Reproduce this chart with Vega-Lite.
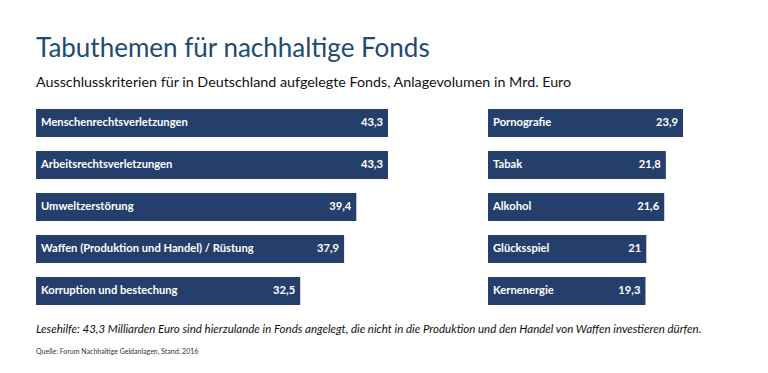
{
  "$schema": "https://vega.github.io/schema/vega-lite/v6.json",
  "background": "white",
  "padding": {"left": 36, "top": 35, "right": 10, "bottom": 10},
  "title": {
    "text": "Tabuthemen für nachhaltige Fonds",
    "subtitle": "Ausschlusskriterien für in Deutschland aufgelegte Fonds, Anlagevolumen in Mrd. Euro",
    "anchor": "start",
    "font": "Lato",
    "fontSize": 26,
    "fontWeight": "normal",
    "color": "#1d4b74",
    "subtitleFont": "Lato",
    "subtitleFontSize": 14.3,
    "subtitleColor": "#111111",
    "subtitlePadding": 14,
    "offset": 19
  },
  "config": {
    "view": {"stroke": null},
    "locale": {"number": {"decimal": ",", "thousands": ".", "grouping": [3], "currency": ["", " €"]}}
  },
  "datasets": {
    "links": [
      {"thema": "Menschenrechtsverletzungen", "balken": 43.3, "wert": 43.3},
      {"thema": "Arbeitsrechtsverletzungen", "balken": 43.3, "wert": 43.3},
      {"thema": "Umweltzerstörung", "balken": 39.4, "wert": 39.4},
      {"thema": "Waffen (Produktion und Handel) / Rüstung", "balken": 37.9, "wert": 37.9},
      {"thema": "Korruption und bestechung", "balken": 32.5, "wert": 32.5}
    ],
    "rechts": [
      {"thema": "Pornografie", "balken": 23.9, "wert": 23.9},
      {"thema": "Tabak", "balken": 21.8, "wert": 21.8},
      {"thema": "Alkohol", "balken": 21.6, "wert": 21.6},
      {"thema": "Glücksspiel", "balken": 19.4, "wert": 21},
      {"thema": "Kernenergie", "balken": 19.3, "wert": 19.3}
    ]
  },
  "vconcat": [
    {
      "title": {
        "text": "Lesehilfe: 43,3 Milliarden Euro sind hierzulande in Fonds angelegt, die nicht in die Produktion und den Handel von Waffen investieren dürfen.",
        "subtitle": "Quelle: Forum Nachhaltige Geldanlagen, Stand: 2016",
        "orient": "bottom",
        "anchor": "start",
        "font": "Lato",
        "fontSize": 11.5,
        "fontStyle": "italic",
        "fontWeight": "normal",
        "color": "#111111",
        "subtitleFont": "Lato",
        "subtitleFontSize": 7,
        "subtitleColor": "#333333",
        "subtitlePadding": 12,
        "offset": 19
      },
      "spacing": 100,
      "hconcat": [
        {
          "data": {"name": "links"},
          "width": 352,
          "height": {"step": 42},
          "encoding": {
            "y": {"field": "thema", "type": "nominal", "sort": null, "axis": null, "scale": {"paddingInner": 0.333, "paddingOuter": 0}}
          },
          "layer": [
            {
              "mark": {"type": "bar", "color": "#243f6c"},
              "encoding": {"x": {"field": "balken", "type": "quantitative", "axis": null, "scale": {"domain": [0, 43.3], "nice": false}}}
            },
            {
              "mark": {"type": "text", "align": "left", "baseline": "middle", "dx": 5, "color": "white", "font": "Lato", "fontSize": 11.2, "fontWeight": "bold"},
              "encoding": {"x": {"datum": 0, "type": "quantitative"}, "text": {"field": "thema"}}
            },
            {
              "mark": {"type": "text", "align": "right", "baseline": "middle", "dx": -5, "color": "white", "font": "Lato", "fontSize": 11.2, "fontWeight": "bold"},
              "encoding": {"x": {"field": "balken", "type": "quantitative"}, "text": {"field": "wert", "type": "quantitative", "format": ".1~f"}}
            }
          ]
        },
        {
          "data": {"name": "rechts"},
          "width": 195,
          "height": {"step": 42},
          "encoding": {
            "y": {"field": "thema", "type": "nominal", "sort": null, "axis": null, "scale": {"paddingInner": 0.333, "paddingOuter": 0}}
          },
          "layer": [
            {
              "mark": {"type": "bar", "color": "#243f6c"},
              "encoding": {"x": {"field": "balken", "type": "quantitative", "axis": null, "scale": {"domain": [0, 23.9], "nice": false}}}
            },
            {
              "mark": {"type": "text", "align": "left", "baseline": "middle", "dx": 5, "color": "white", "font": "Lato", "fontSize": 11.2, "fontWeight": "bold"},
              "encoding": {"x": {"datum": 0, "type": "quantitative"}, "text": {"field": "thema"}}
            },
            {
              "mark": {"type": "text", "align": "right", "baseline": "middle", "dx": -5, "color": "white", "font": "Lato", "fontSize": 11.2, "fontWeight": "bold"},
              "encoding": {"x": {"field": "balken", "type": "quantitative"}, "text": {"field": "wert", "type": "quantitative", "format": ".1~f"}}
            }
          ]
        }
      ]
    }
  ]
}
